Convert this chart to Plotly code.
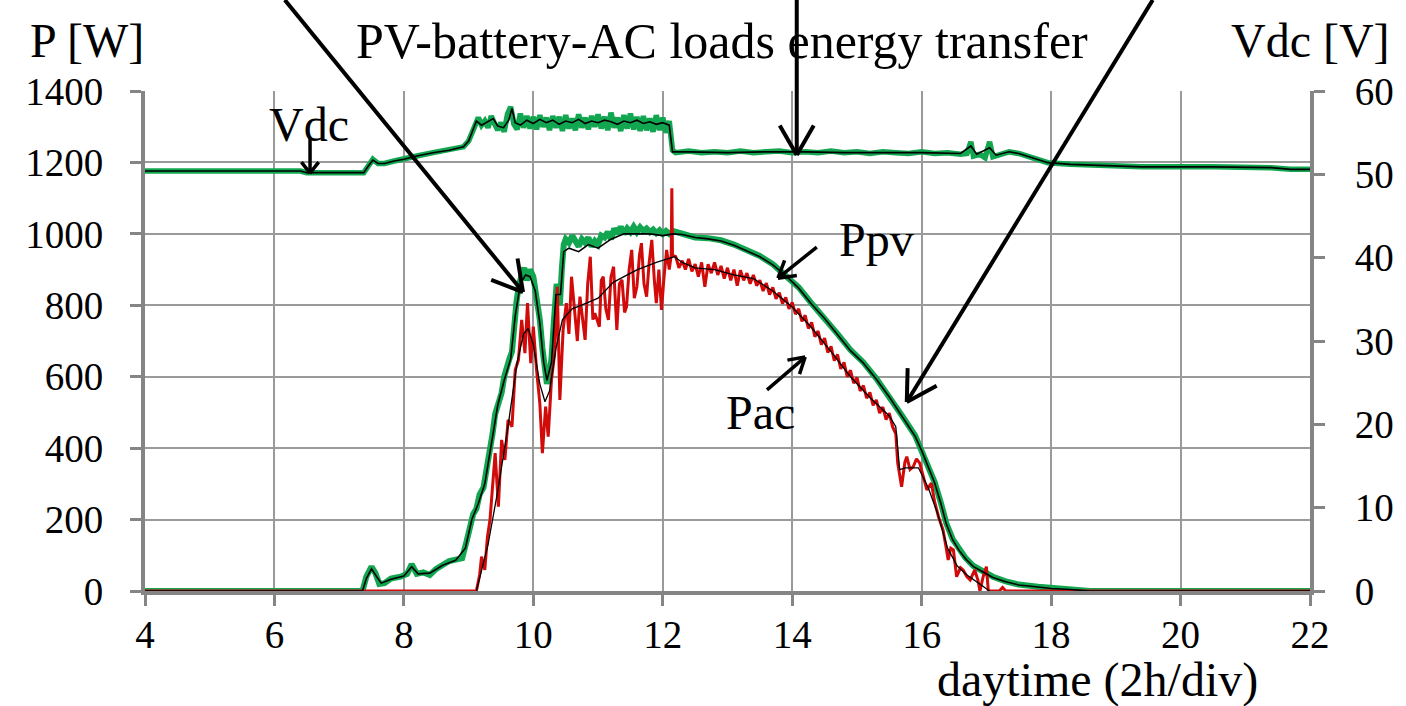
import math
import plotly.graph_objects as go

# ---------------- data ----------------
# DC-link voltage, raw (green) and averaged (black) [V], time in hours
vdc_raw_t = [4.0, 6.4, 6.5, 7.38, 7.45, 7.52, 7.6, 7.7, 7.85, 8.0, 8.2, 8.45, 8.7, 8.92, 9.0, 9.08, 9.12,
             9.15, 9.20, 9.25, 9.30, 9.35, 9.40, 9.45, 9.50, 9.55, 9.60, 9.65, 9.70, 9.75, 9.80, 9.85, 9.90,
             9.95, 10.00, 10.05, 10.10, 10.15, 10.20, 10.25, 10.30, 10.35, 10.40, 10.45, 10.50, 10.55, 10.60,
             10.65, 10.70, 10.75, 10.80, 10.85, 10.90, 10.95, 11.00, 11.05, 11.10, 11.15, 11.20, 11.25, 11.30,
             11.35, 11.40, 11.45, 11.50, 11.55, 11.60, 11.65, 11.70, 11.75, 11.80, 11.85, 11.90, 11.95, 12.00,
             12.05, 12.10, 12.15,
             12.2, 12.4, 12.6, 12.8, 13.0, 13.2, 13.4, 13.6, 13.8, 14.0, 14.2, 14.4, 14.6, 14.8, 15.0, 15.2,
             15.4, 15.6, 15.8, 16.0, 16.2, 16.4, 16.6, 16.7, 16.76, 16.8, 16.9, 16.98, 17.05, 17.1, 17.18,
             17.25, 17.35, 17.5, 17.7, 17.95, 18.3, 18.8, 19.4, 20.5, 21.4, 21.7, 22.0]
vdc_raw_v = [50.4, 50.4, 50.2, 50.2, 51.0, 51.8, 51.3, 51.3, 51.6, 51.8, 52.2, 52.6, 52.9, 53.3, 54.0, 55.6, 56.6,
             56.8, 55.9, 56.4, 55.6, 57.0, 56.1, 55.3, 56.2, 55.1, 57.2, 58.1, 56.0, 55.4, 57.3, 55.6, 57.0,
             55.5, 56.9, 55.4, 57.1, 55.7, 56.8, 55.3, 57.0, 55.6, 56.9, 55.2, 57.1, 55.5, 56.7,
             55.3, 57.2, 55.6, 56.8, 55.4, 57.0, 55.7, 57.2, 55.5, 56.9, 55.3, 57.4, 55.6, 56.8,
             55.2, 57.1, 55.5, 57.3, 55.4, 56.9, 55.2, 57.0, 55.3, 56.7, 55.1, 57.1, 55.3, 56.8,
             55.0, 56.4, 52.9,
             52.6, 52.8, 52.6, 52.7, 52.6, 52.8, 52.6, 52.7, 52.8, 52.6, 52.7, 52.6, 52.8, 52.6, 52.7, 52.5,
             52.7, 52.6, 52.5, 52.7, 52.5, 52.6, 52.4, 52.5, 53.9, 52.2, 52.4, 52.0, 53.9, 52.1, 52.3,
             52.5, 52.7, 52.5, 52.0, 51.4, 51.2, 51.1, 50.9, 50.9, 50.8, 50.6, 50.6]

vdc_avg_t = [4.0, 6.4, 6.5, 7.38, 7.45, 7.52, 7.6, 7.7, 7.85, 8.0, 8.2, 8.45, 8.7, 8.92, 9.0, 9.08, 9.12,
             9.2, 9.3, 9.38, 9.45, 9.54, 9.62, 9.67, 9.72, 9.8, 9.9, 10.0, 10.1, 10.2, 10.3, 10.4, 10.5, 10.6,
             10.7, 10.8, 10.9, 11.0, 11.1, 11.2, 11.3, 11.4, 11.5, 11.6, 11.7, 11.8, 11.9, 12.0, 12.1, 12.15,
             12.4, 13.0, 13.6, 14.2, 14.8, 15.4, 16.0, 16.6, 16.76, 16.85, 17.05, 17.15, 17.35, 17.5, 17.7,
             17.95, 18.3, 18.8, 19.4, 20.5, 21.4, 21.7, 22.0]
vdc_avg_v = [50.4, 50.4, 50.2, 50.2, 51.0, 51.7, 51.3, 51.3, 51.6, 51.8, 52.2, 52.6, 52.9, 53.3, 54.0, 55.6, 56.4,
             55.9, 56.3, 56.7, 55.8, 55.6, 56.5, 57.9, 56.2, 55.9, 56.5, 56.1, 56.6, 56.2, 56.5, 56.0, 56.4, 56.2,
             56.6, 56.1, 56.4, 56.2, 56.5, 56.3, 56.0, 56.4, 56.2, 56.5, 56.1, 56.3, 56.0, 56.2, 55.9, 52.7,
             52.7, 52.6, 52.7, 52.7, 52.6, 52.6, 52.6, 52.5, 53.4, 52.4, 53.2, 52.3, 52.7, 52.5, 52.0,
             51.4, 51.2, 51.1, 50.9, 50.9, 50.8, 50.6, 50.6]

# PV power, raw (green) and averaged (black) [W]
ppv_raw_t = [4.0, 7.36, 7.42, 7.5, 7.56, 7.62, 7.7, 7.8, 7.95, 8.05, 8.12, 8.2, 8.3, 8.4, 8.5, 8.6, 8.7, 8.8,
             8.9, 8.97, 9.02, 9.07, 9.12, 9.17, 9.23, 9.28, 9.33, 9.37, 9.41, 9.46, 9.51, 9.55, 9.59, 9.63,
             9.67, 9.70, 9.74, 9.78, 9.82, 9.86, 9.9, 9.95, 10.0, 10.03, 10.07, 10.1, 10.14, 10.18, 10.21,
             10.25, 10.28, 10.32, 10.36, 10.39, 10.41, 10.44, 10.47, 10.5, 10.55, 10.6, 10.65, 10.7, 10.75,
             10.8, 10.85, 10.9, 10.95, 11.0, 11.05, 11.1, 11.15, 11.2, 11.25, 11.3, 11.35, 11.4, 11.45, 11.5,
             11.55, 11.6, 11.65, 11.7, 11.75, 11.8, 11.85, 11.9, 11.95, 12.0, 12.05, 12.1, 12.16, 12.3, 12.5,
             12.7, 12.9, 13.1, 13.3, 13.5, 13.7, 13.9, 14.1, 14.3, 14.5, 14.7, 14.9, 15.1, 15.3, 15.5, 15.7,
             15.9, 16.0, 16.1, 16.2, 16.3, 16.38, 16.48, 16.58, 16.68, 16.8, 16.95, 17.1, 17.3, 17.5, 17.8,
             18.0, 18.3, 18.6, 22.0]
ppv_raw_w = [0, 0, 40, 68, 50, 20, 22, 35, 40, 48, 75, 48, 52, 45, 62, 75, 84, 88,
             92, 140, 175, 215, 230, 270, 290, 340, 385, 440, 495, 530, 555, 600, 630, 650,
             670, 740, 810, 860, 880, 905, 870, 900, 880, 850, 800, 760, 680, 620, 580,
             610, 650, 760, 860, 830, 800, 900, 970, 985, 975, 995, 980, 965, 985,
             975, 990, 965, 980, 970, 995, 990, 1005, 985, 1015, 1000, 1020, 1000, 1015, 1005,
             1020, 1005, 1018, 1008, 1015, 1005, 1012, 1002, 1010, 1000, 1008, 1000, 1008, 1000, 990,
             988, 982, 970, 955, 938, 915, 885, 850, 805, 765, 720, 675, 640, 595, 545, 490,
             435, 395, 350, 305, 245, 190, 145, 115, 92, 70, 55, 40, 27, 18, 12,
             8, 5, 0, 0]

ppv_avg_t = [4.0, 7.36, 7.42, 7.5, 7.58, 7.65, 7.8, 8.0, 8.12, 8.22, 8.4, 8.6, 8.8, 8.95, 9.05, 9.15,
             9.25, 9.35, 9.45, 9.55, 9.65, 9.72, 9.8, 9.88, 9.95, 10.03, 10.1, 10.16, 10.21, 10.28, 10.35,
             10.42, 10.47, 10.55, 10.7, 10.85, 11.0, 11.2, 11.4, 11.6, 11.8, 12.0, 12.16, 12.3, 12.5, 12.7,
             12.9, 13.1, 13.3, 13.5, 13.7, 13.9, 14.1, 14.3, 14.5, 14.7, 14.9, 15.1, 15.3, 15.5, 15.7, 15.9,
             16.0, 16.1, 16.2, 16.3, 16.38, 16.48, 16.58, 16.68, 16.8, 16.95, 17.1, 17.3, 17.5, 17.8, 18.0,
             18.3, 18.6, 22.0]
ppv_avg_w = [0, 0, 35, 62, 40, 22, 33, 42, 68, 48, 50, 72, 86, 120, 200, 245,
             300, 410, 520, 590, 650, 770, 860, 885, 880, 840, 750, 640, 590, 640, 830,
             830, 950, 960, 950, 970, 960, 985, 1000, 1000, 1000, 995, 1000, 998, 990, 986,
             980, 968, 953, 936, 913, 883, 848, 803, 763, 718, 673, 638, 593, 543, 488, 433,
             393, 348, 303, 243, 188, 143, 113, 90, 68, 53, 38, 26, 17, 11, 7,
             4, 0, 0]

# AC load power, raw (red) and averaged (black) [W]
pac_raw_t = [4.0, 9.12, 9.17, 9.2, 9.25, 9.29, 9.33, 9.37, 9.41, 9.46, 9.51, 9.56, 9.61, 9.67, 9.72, 9.77,
             9.82, 9.87, 9.91, 9.96, 10.0, 10.05, 10.1, 10.14, 10.19, 10.23, 10.28, 10.33, 10.37, 10.41,
             10.46, 10.51, 10.55, 10.59, 10.64, 10.68, 10.72, 10.76, 10.8, 10.84, 10.88, 10.92, 10.95,
             11.02, 11.05, 11.08, 11.12, 11.16, 11.2, 11.24, 11.29, 11.33, 11.37, 11.41, 11.44, 11.48,
             11.52, 11.56, 11.6, 11.64, 11.67, 11.71, 11.75, 11.79, 11.83, 11.87, 11.9, 11.94, 11.98,
             12.02, 12.06, 12.1, 12.13, 12.14, 12.15,
             12.2, 12.25, 12.3, 12.35, 12.4, 12.45, 12.5, 12.55, 12.6, 12.65, 12.7, 12.75, 12.8, 12.85,
             12.9, 12.95, 13.0, 13.05, 13.1, 13.15, 13.2, 13.25, 13.3, 13.35, 13.4, 13.45, 13.5, 13.55,
             13.6, 13.65, 13.7, 13.75, 13.8, 13.85, 13.9, 13.95, 14.0, 14.05, 14.1, 14.15, 14.2, 14.25,
             14.3, 14.35, 14.4, 14.45, 14.5, 14.55, 14.6, 14.65, 14.7, 14.75, 14.8, 14.85, 14.9, 14.95,
             15.0, 15.05, 15.1, 15.15, 15.2, 15.25, 15.3, 15.35, 15.4, 15.45, 15.5, 15.55, 15.6,
             15.63, 15.69, 15.74, 15.77, 15.82, 15.87, 15.92, 15.97, 16.03, 16.08, 16.15, 16.2, 16.26,
             16.33, 16.37, 16.41, 16.45, 16.49, 16.54, 16.6, 16.64, 16.7, 16.75, 16.82, 16.87, 16.9, 16.95,
             17.0, 17.03, 17.2, 17.25, 17.3, 22.0]
pac_raw_w = [0, 0, 45, 96, 59, 150, 199, 300, 386, 236, 423, 367, 479, 460, 619, 647,
             759, 666, 806, 638, 740, 619, 526, 386, 516, 432, 591, 666, 852, 535,
             731, 806, 720, 880, 778, 700, 824, 760, 703, 860, 936, 760, 778,
             740, 870, 880, 790, 759, 880, 908, 731, 860, 871, 780, 796, 900,
             955, 820, 852, 940, 974, 860, 824, 920, 983, 870, 806, 900, 787,
             880, 955, 900, 940, 1128, 940,
             936, 905, 925, 900, 930, 895, 915, 880, 920, 852, 915, 890, 920, 885,
             910, 875, 905, 870, 900, 855, 898, 870, 890, 860, 885, 855, 870, 840,
             862, 830, 850, 818, 835, 805, 822, 790, 808, 775, 790, 755, 772, 735,
             752, 712, 728, 690, 708, 668, 685, 645, 662, 622, 640, 600, 618, 582,
             598, 560, 575, 540, 556, 520, 535, 498, 515, 480, 498, 460, 440,
             358, 292, 360, 376, 340, 348, 370, 358, 320, 283, 302, 250, 208,
             171, 130, 87, 120, 115, 40, 65, 59, 40, 31, 59, 30, 0, 40,
             68, 0, 0, 10, 0, 0]

pac_avg_t = [9.12, 9.3, 9.45, 9.6, 9.75, 9.85, 9.92, 10.0, 10.1, 10.18, 10.25, 10.35, 10.45, 10.6, 10.82,
             11.0, 11.24, 11.4, 11.6, 11.9, 12.18, 12.3, 12.5, 12.8, 13.1, 13.4, 13.7, 14.0, 14.3, 14.6,
             14.9, 15.2, 15.5, 15.6, 15.66, 15.75, 15.95, 16.1, 16.25, 16.4, 16.55, 16.7, 16.9, 17.05]
pac_avg_w = [0, 130, 280, 450, 640, 720, 735, 690, 580, 530, 560, 680, 760, 790, 806,
             820, 865, 880, 899, 920, 936, 920, 905, 900, 885, 875, 840, 795, 737, 670,
             600, 542, 490, 460, 340, 345, 345, 290, 215, 120, 70, 45, 20, 0]

x_ticks = [4, 6, 8, 10, 12, 14, 16, 18, 20, 22]
p_ticks = [0, 200, 400, 600, 800, 1000, 1200, 1400]
v_ticks = [0, 10, 20, 30, 40, 50, 60]

# ---------------- styling ----------------
FONT = "Liberation Serif"
GREEN = "#12a650"
RED = "#d10a0a"
GRID = "#9a9a9a"
AXIS = "#858585"

W, H = 1406, 706
ML, MR, MT, MB = 145, 96, 91, 115
PW, PH = W - ML - MR, H - MT - MB
X0, X1 = 4, 22
P0, P1 = 0, 1400
PX_PER_H = PW / (X1 - X0)

fig = go.Figure()
fig.add_trace(go.Scatter(x=vdc_raw_t, y=vdc_raw_v, yaxis="y2", mode="lines",
                         line=dict(color=GREEN, width=5.5), hoverinfo="skip"))
fig.add_trace(go.Scatter(x=vdc_avg_t, y=vdc_avg_v, yaxis="y2", mode="lines",
                         line=dict(color="black", width=1.6), hoverinfo="skip"))
fig.add_trace(go.Scatter(x=ppv_raw_t, y=ppv_raw_w, mode="lines",
                         line=dict(color=GREEN, width=6), hoverinfo="skip"))
fig.add_trace(go.Scatter(x=pac_raw_t, y=pac_raw_w, mode="lines",
                         line=dict(color=RED, width=3), hoverinfo="skip"))
fig.add_trace(go.Scatter(x=ppv_avg_t, y=ppv_avg_w, mode="lines",
                         line=dict(color="black", width=1.6), hoverinfo="skip"))
fig.add_trace(go.Scatter(x=pac_avg_t, y=pac_avg_w, mode="lines",
                         line=dict(color="black", width=1.3), hoverinfo="skip"))


def to_paper(t, p):
    return (t - X0) / (X1 - X0), (p - P0) / (P1 - P0)


def arrow(t0, p0, t1, p1, width, head_len, head_ang):
    """Open-V arrow from (t0,p0) to tip (t1,p1), given in chart units."""
    xa, ya = to_paper(t0, p0)
    xb, yb = to_paper(t1, p1)
    fig.add_shape(type="line", xref="paper", yref="paper", x0=xa, y0=ya, x1=xb, y1=yb,
                  line=dict(color="black", width=width), layer="above")
    dx, dy = (xa - xb) * PW, (ya - yb) * PH
    n = math.hypot(dx, dy)
    ux, uy = dx / n, dy / n
    for s in (1, -1):
        a = math.radians(head_ang) * s
        rx = ux * math.cos(a) - uy * math.sin(a)
        ry = ux * math.sin(a) + uy * math.cos(a)
        fig.add_shape(type="line", xref="paper", yref="paper", x0=xb, y0=yb,
                      x1=xb + rx * head_len / PW, y1=yb + ry * head_len / PH,
                      line=dict(color="black", width=width), layer="above")


# long arrows (start above the plot, in hours / watts)
arrow(6.16, 1655, 9.84, 837, 4, 34, 30)
arrow(14.07, 1655, 14.07, 1221, 4, 34, 30)
arrow(19.57, 1655, 15.77, 529, 4, 34, 30)
# short label arrows
arrow(6.55, 1268, 6.55, 1170, 3.5, 14, 38)
arrow(14.38, 963, 13.78, 876, 3.5, 19, 31)
arrow(13.61, 563, 14.20, 655, 3.5, 18, 31)


def label(text, px_x, p, size=48):
    x, y = to_paper(X0 + (px_x - ML) / PX_PER_H, p)
    fig.add_annotation(text=text, x=x, y=y, xref="paper", yref="paper", showarrow=False,
                       xanchor="center", yanchor="middle",
                       font=dict(family=FONT, size=size, color="black"))


label("P [W]", 87, 1540)
label("PV-battery-AC loads energy transfer", 722, 1540, size=50)
label("Vdc [V]", 1310, 1540)
label("daytime (2h/div)", 1097, -250, size=48)
label("Vdc", 309, 1305)
label("Ppv", 877, 985)
label("Pac", 760, 500)

axis_common = dict(
    showline=True, linecolor=AXIS, linewidth=4,
    ticks="outside", ticklen=11, tickwidth=3, tickcolor=AXIS,
    tickfont=dict(family=FONT, size=39, color="black"),
    zeroline=False, automargin=False,
)

fig.update_layout(
    width=W, height=H, autosize=False,
    margin=dict(l=ML, r=MR, t=MT, b=MB, pad=0, autoexpand=False),
    paper_bgcolor="white", plot_bgcolor="white",
    showlegend=False,
    xaxis=dict(range=[X0, X1], tickvals=x_ticks, showgrid=True, gridcolor=GRID, gridwidth=1.5,
               ticklabelstandoff=-5, **axis_common),
    yaxis=dict(range=[P0, P1], tickvals=p_ticks, showgrid=True, gridcolor=GRID, gridwidth=1.5,
               ticklabelstandoff=19, **axis_common),
    yaxis2=dict(range=[0, 60], tickvals=v_ticks, overlaying="y", side="right", showgrid=False,
                ticklabelstandoff=22, **axis_common),
)

fig.write_html("out.html")
